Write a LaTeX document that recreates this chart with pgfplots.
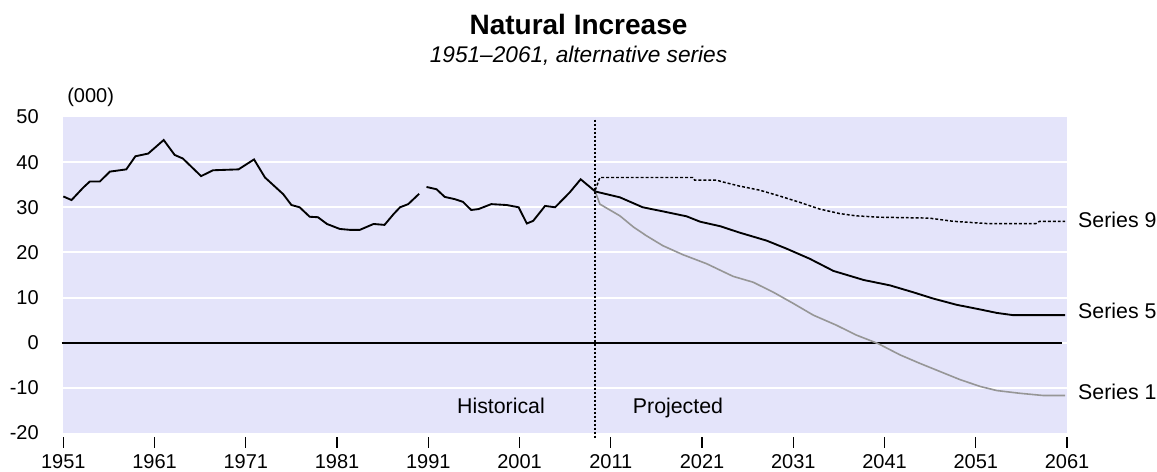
\documentclass[border=0pt]{standalone}
\usepackage{fontspec}
\setmainfont{Liberation Sans}
\usepackage{pgfplots}
\pgfplotsset{compat=1.18}
\definecolor{bg}{RGB}{228,228,250}
\definecolor{sone}{RGB}{150,150,150}

\begin{document}
\begin{tikzpicture}
\begin{axis}[
 at={(0,0)}, anchor=south west,
 scale only axis, width=752.8pt, height=237pt,
 xmin=1951, xmax=2061, ymin=-20, ymax=50,
 clip=false,
 axis line style={draw=none},
 axis background/.style={fill=bg},
 xtick={1951,1961,...,2061},
 xtick pos=left,
 ytick pos=left,
 ytick={-20,-10,...,50},
 extra y ticks={-10,0,...,40},
 extra y tick labels={},
 extra y tick style={grid=major, major tick length=0pt, tick style={draw=none}},
 major grid style={white, line width=1.5pt},
 tick align=outside,
 major tick length=8.25pt,
 xtick style={draw=black, line width=1pt, yshift=-3pt},
 ytick style={draw=none},
 /pgf/number format/assume math mode=true,
 /pgf/number format/1000 sep={},
 scaled ticks=false,
 tick label style={font=\fontsize{15}{18}\selectfont},
 xticklabel style={inner sep=0pt, anchor=north, yshift=-8pt},
 yticklabel style={inner sep=0pt, anchor=east, xshift=-10pt},
]
% zero line
\addplot[black, line width=1.4pt] coordinates {(1950.8,0) (2060.5,0)};

% historical
\addplot[black, line width=1.4pt] coordinates {
(1951,32.4) (1951.9,31.6) (1953.2,34.4) (1953.9,35.7) (1955.0,35.7) (1956.1,37.9)
(1957.9,38.4) (1958.9,41.3) (1960.3,41.9) (1962.0,44.9) (1963.2,41.6) (1964.1,40.8)
(1966.1,36.9) (1967.4,38.2) (1970.2,38.4) (1971.9,40.6) (1973.1,36.6) (1975.1,32.9)
(1976.0,30.5) (1976.9,30.0) (1978.0,27.9) (1978.9,27.8) (1979.9,26.3) (1981.3,25.2)
(1982.4,25.0) (1983.5,25.0) (1985.0,26.3) (1986.2,26.1) (1987.2,28.5) (1987.9,30.0)
(1988.8,30.7) (1990.0,33.0)};
\addplot[black, line width=1.4pt] coordinates {
(1990.8,34.5) (1991.9,34.0) (1992.8,32.3) (1993.9,31.8) (1994.8,31.2) (1995.7,29.4)
(1996.5,29.6) (1997.9,30.7) (1999.6,30.5) (2000.9,30.0) (2001.8,26.4) (2002.5,27.0)
(2003.8,30.3) (2004.9,30.0) (2006.5,33.3) (2007.7,36.2) (2009.3,33.5)};

% Series 9
\addplot[black, line width=1.1pt, dash pattern=on 2.2pt off 1.5pt] coordinates {
(2009.3,33.8) (2009.8,36.6) (2020.0,36.6) (2020.2,36.0) (2022.6,36.0) (2023.3,35.6)
(2025.1,34.7) (2027.3,33.8) (2029.5,32.5) (2031.7,31.1) (2033.9,29.6) (2036.1,28.6)
(2037.9,28.1) (2040.5,27.8) (2045.9,27.6) (2048.5,26.9) (2052.2,26.4) (2057.6,26.4)
(2058.0,26.9) (2060.8,26.9)};

% Series 1
\addplot[sone, line width=1.2pt] coordinates {
(2009.3,33.5) (2009.8,30.7) (2012.0,28.1) (2013.5,25.6) (2014.9,23.7) (2016.7,21.5)
(2018.9,19.5) (2021.5,17.5) (2024.4,14.7) (2026.6,13.4) (2028.8,11.2) (2031.0,8.7)
(2033.2,6.1) (2035.7,3.9) (2037.9,1.7) (2040.3,-0.2) (2042.7,-2.7) (2044.9,-4.6)
(2047.1,-6.4) (2049.3,-8.2) (2051.5,-9.7) (2053.3,-10.6) (2055.8,-11.2) (2058.4,-11.7)
(2060.8,-11.7)};

% Series 5
\addplot[black, line width=1.4pt] coordinates {
(2009.3,33.5) (2012.0,32.2) (2014.5,30.0) (2016.7,29.1) (2019.3,28.0) (2020.8,26.8)
(2023.0,25.8) (2025.1,24.4) (2028.1,22.6) (2030.3,20.8) (2032.8,18.6) (2035.4,15.9)
(2038.7,13.9) (2041.6,12.7) (2044.1,11.2) (2046.3,9.8) (2048.9,8.4) (2051.4,7.4)
(2053.3,6.6) (2055.1,6.1) (2060.8,6.1)};

% divider
\addplot[black, line width=1.5pt, dash pattern=on 1.9pt off 1.1pt] coordinates {(2009.3,49.4) (2009.3,-21.1)};

\node[anchor=base east, inner sep=0pt, font=\fontsize{16}{19}\selectfont] at (axis cs:2003.8,-15.6) {Historical};
\node[anchor=base west, inner sep=0pt, font=\fontsize{16}{19}\selectfont] at (axis cs:2013.4,-15.6) {Projected};
\node[anchor=base west, inner sep=0pt, font=\fontsize{16}{19}\selectfont] at (axis cs:2062.2,25.6) {Series 9};
\node[anchor=base west, inner sep=0pt, font=\fontsize{16}{19}\selectfont] at (axis cs:2062.2,5.35) {Series 5};
\node[anchor=base west, inner sep=0pt, font=\fontsize{16}{19}\selectfont] at (axis cs:2062.2,-12.6) {Series 1};
\end{axis}
\node[anchor=base, inner sep=0pt, font=\fontsize{21}{25}\selectfont\bfseries] at (386.4pt,299pt) {Natural Increase};
\node[anchor=base, inner sep=0pt, font=\fontsize{17}{20}\selectfont\itshape] at (386.4pt,277.5pt) {1951\textendash 2061, alternative series};
\node[anchor=base west, inner sep=0pt, font=\fontsize{15}{18}\selectfont] at (2.8pt,247.5pt) {(000)};
\pgfresetboundingbox
\useasboundingbox (-47.5pt,-29.25pt) rectangle (820.3pt,324.75pt);
\end{tikzpicture}
\end{document}
